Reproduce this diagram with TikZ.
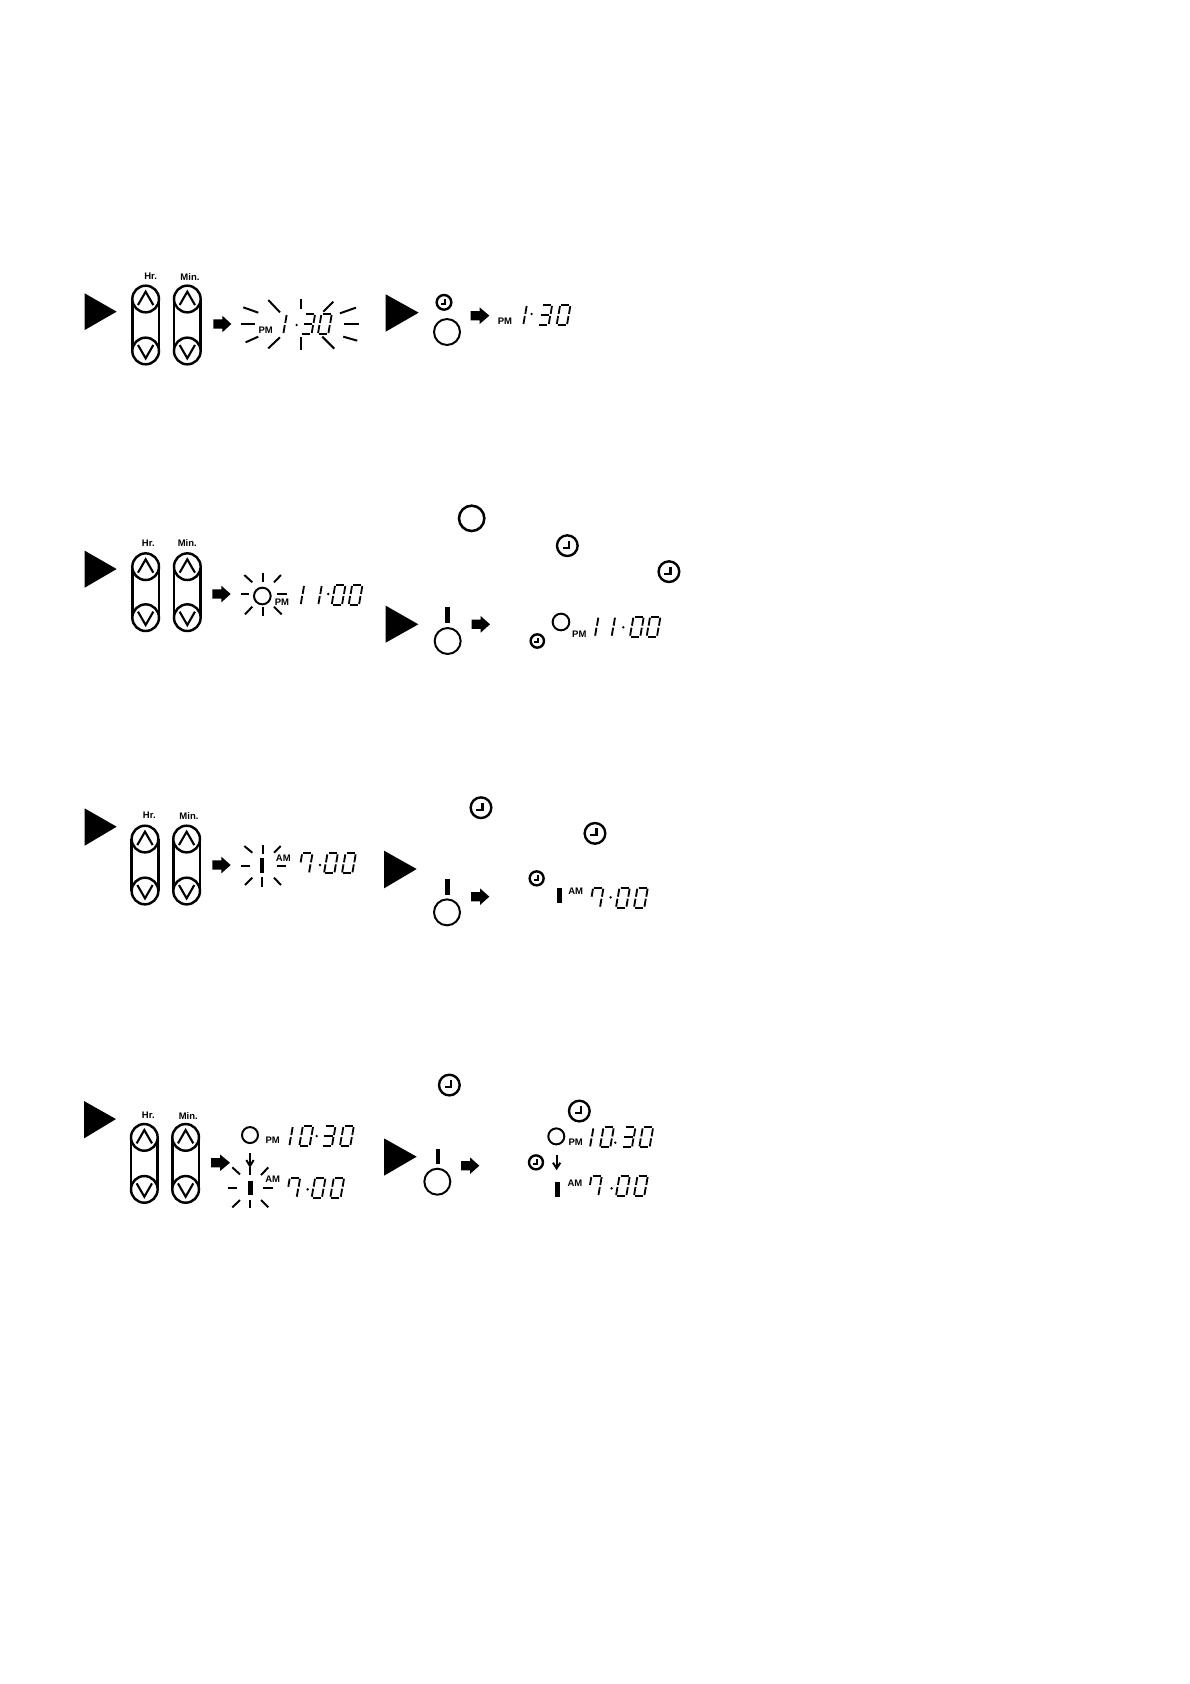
\documentclass[tikz,border=0pt]{standalone}
\usepackage{fontspec}
\setmainfont{Liberation Sans}
\tikzset{
  zoomed/.style 2 args={shift={(#1*0.05cm,-#2*0.05cm)},x=0.016667cm,y=-0.016667cm},
  segline/.style={line width=2.6pt,line cap=butt},
  ray/.style={line width=2.8pt},
  ring/.style={line width=2.8pt},
  btn/.style={line width=3.5pt},
  chev/.style={line width=3pt,line join=miter},
  tag/.style={inner sep=0pt,font=\fontsize{13.5}{14}\selectfont\bfseries},
}
\newcommand\segA{\draw[segline] (14,-60)--(38,-60);}
\newcommand\segB{\draw[segline] (41,-57)--(37,-33);}
\newcommand\segC{\draw[segline] (35.5,-27)--(31.5,-3);}
\newcommand\segD{\draw[segline] (3,0)--(27,0);}
\newcommand\segE{\draw[segline] (0.5,-3)--(4.5,-27);}
\newcommand\segF{\draw[segline] (6,-33)--(10,-57);}
\newcommand\segG{\draw[segline] (8,-30)--(33,-30);}
\newcommand\DZero[2]{\begin{scope}[shift={(#1,#2)}]\segA\segB\segC\segD\segE\segF\end{scope}}
\newcommand\DOne[2]{\begin{scope}[shift={(#1,#2)}]\segB\segC\end{scope}}
\newcommand\DThree[2]{\begin{scope}[shift={(#1,#2)}]\segA\segB\segC\segD\segG\end{scope}}
\newcommand\DSeven[2]{\begin{scope}[shift={(#1,#2)}]\segA\segB\segC\segF\end{scope}}
\newcommand\Dot[2]{\fill (#1,#2) circle (4);}
\newcommand\Tri[6]{\fill (#1,#2)--(#3,#4)--(#5,#6)--cycle;}
\newcommand\BA[3]{\fill (#1,#3-14)--(#1+27,#3-14)--(#1+27,#3-25)--(#2,#3)--(#1+27,#3+25)--(#1+27,#3+14)--(#1,#3+14)--cycle;}
\newcommand\Clk[3]{\draw[line width=3.4pt] (#1,#2) circle (#3);
  \draw[line width=3pt] (#1+0.15*#3,#2-0.5*#3)--(#1+0.15*#3,#2+0.2*#3)--(#1-0.45*#3,#2+0.2*#3);}
\newcommand\Knob[3]{\draw[ring] (#1,#2) circle (#3);}
\newcommand\Bar[4]{\fill (#1,#3) rectangle (#2,#4);}
\newcommand\Btn[3]{% cx, top cy, bottom cy
  \draw[btn] (#1-40,#2)--(#1-40,#3);
  \draw[btn] (#1+40,#2)--(#1+40,#3);
  \draw[btn,fill=white] (#1,#2) circle (40);
  \draw[btn,fill=white] (#1,#3) circle (40);
  \draw[chev] (#1-23,#2+18)--(#1,#2-22)--(#1+23,#2+18);
  \draw[chev] (#1-23,#3-18)--(#1,#3+22)--(#1+23,#3-18);}
\newcommand\Rays[1]{\foreach \a/\b/\c/\d in {#1} {\draw[ray] (\a,\b)--(\c,\d);}}
\begin{document}
\begin{tikzpicture}
\useasboundingbox (0,0) rectangle (59.5,-84.2);
% ---------- row 1
\begin{scope}[zoomed={70}{250}]
  \Tri{44}{130}{140}{185}{44}{240}
  \Btn{227}{147}{303}\Btn{352}{147}{303}
  \node[tag] (hr1) at (242,80) {Hr.};
  \node[tag] (min1) at (360,80) {Min.};
  \BA{430}{484}{222}
  \node[tag] (pm1) at (587,242) {PM};
  \Rays{520/172/565/188,595/150/630/187,692/147/692/178,790/155/760/185,858/173/810/190,512/223/555/223,822/222/868/222,527/277/565/260,595/295/630/262,692/262/692/300,757/260/793/296,820/260/862/272}
  \DOne{609}{252}\Dot{680}{225}\DThree{694}{252}\DZero{744}{252}
\end{scope}
\begin{scope}[zoomed={370}{270}]
  \Tri{47}{73}{146}{128}{47}{185}
  \Clk{222}{97}{22}
  \Knob{231}{186}{39}
  \BA{302}{358}{137}
  \node[tag] (pm1b) at (405,153) {PM};
  \DOne{429}{165}\Dot{485}{132}\DThree{505}{165}\DZero{560}{165}
\end{scope}
% ---------- row 2
\begin{scope}[zoomed={70}{520}]
  \Tri{44}{92}{140}{147}{44}{203}
  \Btn{227}{140}{293}\Btn{352}{140}{293}
  \node[tag] (hr2) at (235,70) {Hr.};
  \node[tag] (min2) at (352,70) {Min.};
\end{scope}
\begin{scope}[zoomed={200}{520}]
  \BA{37}{92}{222}
  \Knob{187}{228}{25}
  \Rays{133/165/157/187,190/158/190/187,243/165/222/187,122/223/148/223,232/222/262/222,135/283/157/260,190/260/190/288,222/260/245/283}
  \node[tag] (pm2) at (246,246) {PM};
  \DOne{271}{255}\DOne{324}{255}\Dot{385}{222}\DZero{395}{255}\DZero{446}{255}
\end{scope}
\begin{scope}[zoomed={380}{490}]
  \draw[line width=3.6pt] (275,85) circle (38);
  \Clk{562}{167}{31}
  \Clk{867}{245}{31}
  \Tri{17}{347}{115}{403}{17}{458}
  \Bar{195}{210}{352}{400}
  \Knob{203}{453}{39}
  \BA{275}{330}{403}
  \Knob{543}{396}{25}
  \Clk{472}{453}{20}
  \node[tag] (pm2b) at (598,433) {PM};
  \DOne{614}{440}\DOne{664}{440}\Dot{730}{412}\DZero{750}{440}\DZero{800}{440}
\end{scope}
% ---------- row 3
\begin{scope}[zoomed={70}{790}]
  \Tri{44}{55}{140}{110}{44}{167}
  \Btn{225}{147}{303}\Btn{350}{147}{303}
  \node[tag] (hr3) at (238,77) {Hr.};
  \node[tag] (min3) at (357,77) {Min.};
\end{scope}
\begin{scope}[zoomed={200}{790}]
  \BA{37}{92}{225}
  \Rays{133/168/157/188,190/165/190/192,242/168/222/188,122/228/150/228,230/228/258/228,135/285/157/263,187/262/187/292,222/263/243/285}
  \Bar{181}{193}{203}{248}
  \node[tag] (am3) at (250,205) {AM};
  \DSeven{296}{250}\Dot{360}{225}\DZero{372}{250}\DZero{426}{250}
\end{scope}
\begin{scope}[zoomed={380}{780}]
  \Clk{303}{83}{31}
  \Clk{645}{160}{31}
  \Tri{12}{212}{110}{267}{12}{325}
  \Bar{195}{210}{298}{345}
  \Knob{201}{397}{39}
  \BA{273}{328}{350}
  \Clk{470}{295}{21}
  \Bar{531}{545}{325}{370}
  \node[tag] (am3b) at (587,335) {AM};
  \DSeven{629}{383}\Dot{692}{352}\DZero{708}{383}\DZero{762}{383}
\end{scope}
% ---------- row 4
\begin{scope}[zoomed={70}{1090}]
  \Tri{42}{33}{138}{87}{42}{145}
  \Btn{223}{142}{298}\Btn{347}{142}{298}
  \node[tag] (hr4) at (235,77) {Hr.};
  \node[tag] (min4) at (355,77) {Min.};
\end{scope}
\begin{scope}[zoomed={200}{1110}]
  \BA{33}{90}{158}
  \Knob{150}{75}{24}
  \node[tag] (pm4) at (218,92) {PM};
  \DOne{237}{108}\DZero{298}{108}\Dot{350}{78}\DThree{365}{108}\DZero{420}{108}
  \draw[ray] (150,130)--(150,168);
  \draw[ray] (139,150)--(150,168)--(161,150);
  \Rays{97/172/120/193,150/170/150/195,205/172/183/195,83/233/110/233,190/233/220/233,97/292/120/270,150/270/150/293,183/270/205/292}
  \Bar{145}{158}{212}{255}
  \node[tag] (am4) at (218,208) {AM};
  \DSeven{259}{263}\Dot{323}{238}\DZero{335}{263}\DZero{391}{263}
\end{scope}
\begin{scope}[zoomed={380}{1060}]
  \Clk{208}{75}{31}
  \Clk{598}{153}{31}
  \Tri{12}{235}{110}{290}{12}{347}
  \Bar{167}{180}{266}{312}
  \Knob{172}{365}{39}
  \BA{243}{298}{317}
  \Knob{529}{229}{24}
  \node[tag] (pm4b) at (587,247) {PM};
  \DOne{599}{262}\DZero{660}{262}\Dot{706}{248}\DThree{725}{262}\DZero{778}{262}
  \Clk{468}{307}{21}
  \draw[ray] (530,285)--(530,325);
  \draw[ray] (519,308)--(530,325)--(541,308);
  \Bar{524}{539}{365}{410}
  \node[tag] (am4b) at (585,370) {AM};
  \DSeven{624}{408}\Dot{695}{385}\DZero{708}{408}\DZero{762}{408}
\end{scope}
\end{tikzpicture}
\end{document}
